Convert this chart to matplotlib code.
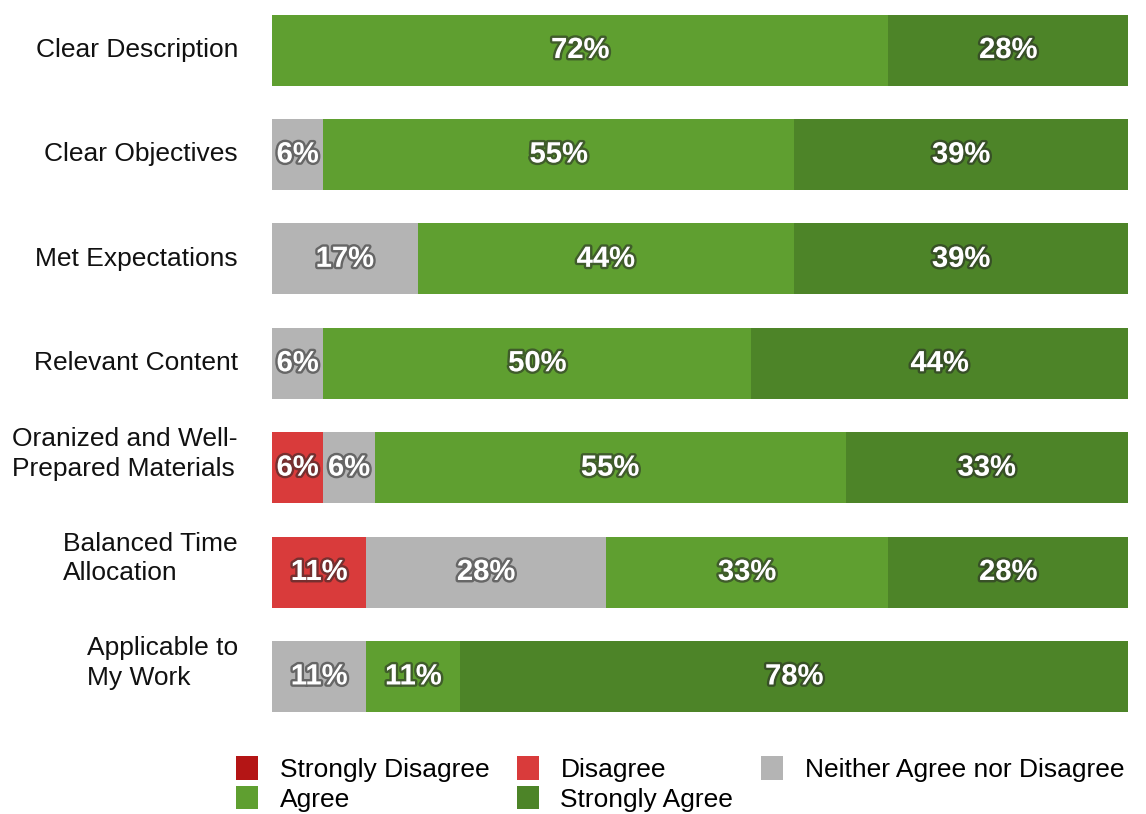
import matplotlib.pyplot as plt
import matplotlib.patheffects as pe
import numpy as np

plt.rcParams['font.family'] = ['Liberation Sans', 'DejaVu Sans']

categories = ["Clear Description", "Clear Objectives", "Met Expectations",
              "Relevant Content", "Oranized and Well-\nPrepared Materials",
              "Balanced Time\nAllocation", "Applicable to\nMy Work"]

strongly_disagree = [0, 0, 0, 0, 0, 0, 0]
disagree = [0, 0, 0, 0, 6, 11, 0]
neither = [0, 6, 17, 6, 6, 28, 11]
agree = [72, 55, 44, 50, 55, 33, 11]
strongly_agree = [28, 39, 39, 44, 33, 28, 78]

series = [
    ("Strongly Disagree", strongly_disagree, "#b41515"),
    ("Disagree", disagree, "#d93b3b"),
    ("Neither Agree nor Disagree", neither, "#b4b4b4"),
    ("Agree", agree, "#5f9f30"),
    ("Strongly Agree", strongly_agree, "#4d8428"),
]

fig = plt.figure(figsize=(11.46, 8.14), dpi=100)
ax = fig.add_axes([272 / 1146, 1 - 726 / 814, 856 / 1146, 726 / 814])

y = np.arange(len(categories))
left = np.zeros(len(categories))
handles = {}
shadow = [pe.withStroke(linewidth=3.5, foreground=(0.15, 0.15, 0.15, 0.55))]

for name, vals, color in series:
    vals = np.array(vals, dtype=float)
    bars = ax.barh(y, vals, left=left, height=0.68, color=color, edgecolor='none')
    handles[name] = bars
    for yi, l, v in zip(y, left, vals):
        if v > 0:
            ax.text(l + v / 2, yi, f"{int(v)}%", ha='center', va='center',
                    color='white', fontsize=21, fontweight='bold',
                    path_effects=shadow)
    left += vals

ax.set_xlim(0, 100)
ax.set_ylim(6.475, -0.479)
ax.axis('off')

for yi, cat in zip(y, categories):
    dy = -0.13 if "\n" in cat else 0
    ax.text(-34 / 856 * 100, yi + dy, cat, ha='right', va='center',
            multialignment='left', fontsize=19, linespacing=1.3, color='#111111')

order = ["Strongly Disagree", "Agree", "Disagree", "Strongly Agree",
         "Neither Agree nor Disagree"]
fig.legend([handles[o] for o in order], order, ncol=3,
           loc='upper left', bbox_to_anchor=(236 / 1146, 1 - 756 / 814),
           frameon=False, fontsize=19, handlelength=0.85, handleheight=1.0,
           handletextpad=0.8, columnspacing=1.05, labelspacing=0.15,
           borderpad=0, borderaxespad=0)

fig.savefig("out.png", dpi=100)
